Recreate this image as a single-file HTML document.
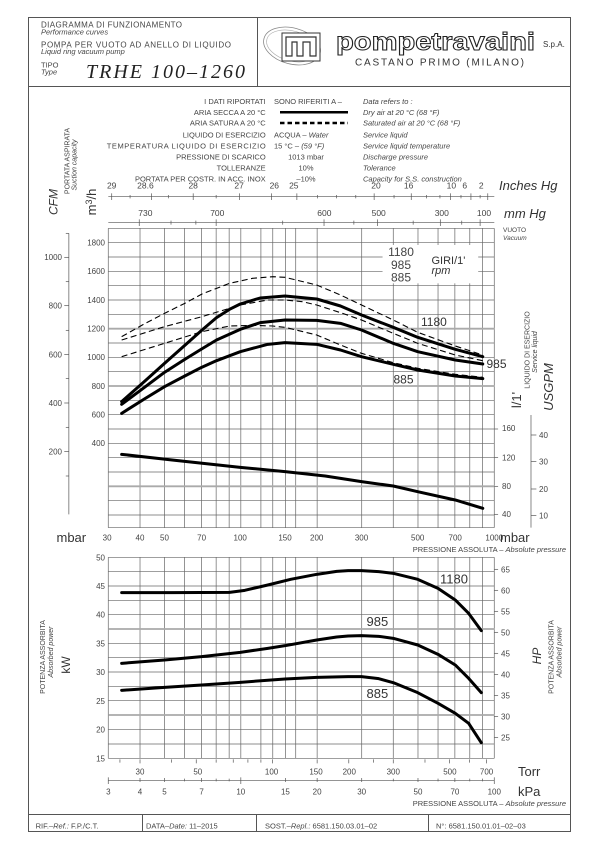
<!DOCTYPE html>
<html><head><meta charset="utf-8"><style>
html,body{margin:0;padding:0;background:#fff}
svg{display:block}
text{font-family:"Liberation Sans",sans-serif;fill:#444}
.it{font-style:italic}
.s{font-size:7.5px}
.m{font-size:8px}
.b{font-size:13px;fill:#333}
.g line,.g polyline,.g path{vector-effect:non-scaling-stroke}
.gl{stroke:#666;stroke-width:0.7}
.gg{stroke:#aaa;stroke-width:1.8}
.cv{fill:none;stroke:#000;stroke-width:3;stroke-linejoin:round;stroke-linecap:round}
.dv{fill:none;stroke:#000;stroke-width:1.1;stroke-dasharray:6 3.5}
.tk{stroke:#555;stroke-width:0.7}
</style></head><body>
<svg width="600" height="849" viewBox="0 0 600 849" xmlns="http://www.w3.org/2000/svg">
<rect width="600" height="849" fill="#fff"/>
<rect x="28.5" y="17.5" width="542" height="814" fill="none" stroke="#555" stroke-width="1"/>
<line x1="28" y1="86.5" x2="571" y2="86.5" stroke="#555"/>
<line x1="257.5" y1="17" x2="257.5" y2="86.5" stroke="#555"/>
<line x1="28" y1="814.5" x2="571" y2="814.5" stroke="#555"/>
<line x1="142.5" y1="814.5" x2="142.5" y2="831.5" stroke="#555"/>
<line x1="256.5" y1="814.5" x2="256.5" y2="831.5" stroke="#555"/>
<line x1="428.5" y1="814.5" x2="428.5" y2="831.5" stroke="#555"/>

<text x="41" y="27.5" class="m" textLength="141">DIAGRAMMA DI FUNZIONAMENTO</text>
<text x="41" y="34.5" class="s it">Performance curves</text>
<text x="41" y="47.5" class="m" textLength="190">POMPA PER VUOTO AD ANELLO DI LIQUIDO</text>
<text x="41" y="54" class="s it">Liquid ring vacuum pump</text>
<text x="41" y="67.5" class="s">TIPO</text>
<text x="41" y="74.5" class="s it">Type</text>
<text x="86" y="78" style="font-family:'Liberation Serif',serif;font-style:italic;font-size:20px;fill:#222" textLength="159">TRHE 100–1260</text>

<ellipse cx="292" cy="46" rx="29" ry="18" fill="none" stroke="#888" stroke-width="0.8" transform="rotate(15 292 46)"/>
<ellipse cx="292" cy="46" rx="26" ry="15" fill="none" stroke="#aaa" stroke-width="0.6" transform="rotate(15 292 46)"/>
<rect x="282" y="33" width="38" height="28" fill="#fff" stroke="#333" stroke-width="1"/>
<path d="M286 37 H316 V56 H310 V42 H303 V56 H297 V42 H292 V56 H286 Z" fill="none" stroke="#333" stroke-width="1.2"/>
<text x="336" y="50" style="font-family:'Liberation Sans',sans-serif;font-weight:bold;font-size:25px;fill:#fff;stroke:#222;stroke-width:1" textLength="199" lengthAdjust="spacingAndGlyphs">pompetravaini</text>
<text x="543" y="47" style="font-size:8px;fill:#333">S.p.A.</text>
<text x="355" y="65.5" style="font-size:10px;fill:#333" textLength="169">CASTANO PRIMO    (MILANO)</text>

<g class="s">
<text x="265.7" y="104" text-anchor="end">I DATI RIPORTATI</text>
<text x="274" y="104">SONO RIFERITI A –</text>
<text x="265.7" y="115" text-anchor="end">ARIA SECCA A 20 °C</text>
<text x="265.7" y="125.7" text-anchor="end">ARIA SATURA A 20 °C</text>
<text x="265.7" y="137.4" text-anchor="end">LIQUIDO DI ESERCIZIO</text>
<text x="265.7" y="148.4" text-anchor="end" textLength="159">TEMPERATURA LIQUIDO DI ESERCIZIO</text>
<text x="265.7" y="159.7" text-anchor="end">PRESSIONE DI SCARICO</text>
<text x="265.7" y="170.7" text-anchor="end">TOLLERANZE</text>
<text x="265.7" y="181.7" text-anchor="end">PORTATA PER COSTR. IN ACC. INOX</text>
<text x="274" y="137.4">ACQUA – <tspan class="it">Water</tspan></text>
<text x="274" y="148.4">15 °C – <tspan class="it">(59 °F)</tspan></text>
<text x="306" y="159.7" text-anchor="middle">1013 mbar</text>
<text x="306" y="170.7" text-anchor="middle">10%</text>
<text x="306" y="181.7" text-anchor="middle">–10%</text>
<g class="it">
<text x="363" y="104">Data refers to :</text>
<text x="363" y="115">Dry air at 20 °C (68 °F)</text>
<text x="363" y="125.7">Saturated air at 20 °C (68 °F)</text>
<text x="363" y="137.4">Service liquid</text>
<text x="363" y="148.4">Service liquid temperature</text>
<text x="363" y="159.7">Discharge pressure</text>
<text x="363" y="170.7">Tolerance</text>
<text x="363" y="181.7">Capacity for S.S. construction</text>
</g>
</g>
<line x1="280" y1="112.3" x2="348" y2="112.3" stroke="#000" stroke-width="2.5"/>
<line x1="280" y1="123" x2="348" y2="123" stroke="#000" stroke-width="2.5" stroke-dasharray="4.5 3"/>

<line x1="108.3" y1="196.7" x2="494.3" y2="196.7" class="tk"/>
<line x1="108.3" y1="222.7" x2="494.3" y2="222.7" class="tk"/>
<g class="g" transform="translate(0,0) scale(0.38256,0.33333)">
<g class="tk">
<line x1="292" y1="580" x2="292" y2="600"/><line x1="396" y1="580" x2="396" y2="600"/><line x1="505" y1="580" x2="505" y2="600"/><line x1="626" y1="580" x2="626" y2="600"/><line x1="710" y1="580" x2="710" y2="600"/><line x1="776" y1="580" x2="776" y2="600"/><line x1="978" y1="580" x2="978" y2="600"/><line x1="1075" y1="580" x2="1075" y2="600"/><line x1="1178" y1="580" x2="1178" y2="600"/><line x1="1231" y1="580" x2="1231" y2="600"/><line x1="1275" y1="580" x2="1275" y2="600"/>
<line x1="340" y1="585" x2="340" y2="595"/><line x1="440" y1="585" x2="440" y2="595"/><line x1="565" y1="585" x2="565" y2="595"/><line x1="830" y1="585" x2="830" y2="595"/><line x1="880" y1="585" x2="880" y2="595"/><line x1="930" y1="585" x2="930" y2="595"/><line x1="1030" y1="585" x2="1030" y2="595"/><line x1="1115" y1="585" x2="1115" y2="595"/><line x1="1150" y1="585" x2="1150" y2="595"/><line x1="1205" y1="585" x2="1205" y2="595"/><line x1="1255" y1="585" x2="1255" y2="595"/>
<line x1="364" y1="658" x2="364" y2="678"/><line x1="447" y1="662" x2="447" y2="674"/><line x1="512" y1="662" x2="512" y2="674"/><line x1="565" y1="658" x2="565" y2="678"/><line x1="739" y1="662" x2="739" y2="674"/><line x1="847" y1="658" x2="847" y2="678"/><line x1="925" y1="662" x2="925" y2="674"/><line x1="987" y1="658" x2="987" y2="678"/><line x1="1080" y1="662" x2="1080" y2="674"/><line x1="1151" y1="658" x2="1151" y2="678"/><line x1="1207" y1="662" x2="1207" y2="674"/><line x1="1255" y1="658" x2="1255" y2="678"/>
</g></g>
<g class="m" text-anchor="middle" style="font-size:8.5px">
<text x="111.7" y="188.5">29</text><text x="145.4" y="188.5">28.6</text><text x="193.2" y="188.5">28</text><text x="239.1" y="188.5">27</text><text x="274.3" y="188.5">26</text><text x="293.8" y="188.5">25</text><text x="376" y="188.5">20</text><text x="408.6" y="188.5">16</text><text x="451.4" y="188.5">10</text><text x="464.8" y="188.5">6</text><text x="481.3" y="188.5">2</text>
<text x="145.4" y="216">730</text><text x="217.3" y="216">700</text><text x="324.4" y="216">600</text><text x="378.7" y="216">500</text><text x="441.8" y="216">300</text><text x="484" y="216">100</text>
</g>
<text x="499" y="190" class="b it">Inches Hg</text>
<text x="504" y="218" class="b it">mm Hg</text>
<text x="503" y="232" style="font-size:6.5px">VUOTO</text>
<text x="503" y="240" style="font-size:6.5px" class="it">Vacuum</text>

<text transform="translate(57.5,202) rotate(-90)" text-anchor="middle" style="font-size:12px;font-style:italic;fill:#333">CFM</text>
<text transform="translate(69.5,161) rotate(-90)" text-anchor="middle" style="font-size:7px">PORTATA ASPIRATA</text>
<text transform="translate(76.5,165) rotate(-90)" text-anchor="middle" style="font-size:7px;font-style:italic">Suction capacity</text>
<text transform="translate(96,202) rotate(-90)" text-anchor="middle" style="font-size:13px;fill:#333">m<tspan dy="-4" style="font-size:9px">3</tspan><tspan dy="4">/h</tspan></text>

<g class="g" transform="translate(0,220) scale(0.38256,0.33333)">
<g class="gl">
<line x1="283" y1="25" x2="283" y2="923"/><line x1="366" y1="25" x2="366" y2="923"/><line x1="430" y1="25" x2="430" y2="923"/><line x1="482" y1="25" x2="482" y2="923"/><line x1="527" y1="25" x2="527" y2="923"/><line x1="565" y1="25" x2="565" y2="923"/><line x1="599" y1="25" x2="599" y2="923"/><line x1="629.5" y1="25" x2="629.5" y2="923"/><line x1="682" y1="25" x2="682" y2="923"/><line x1="713" y1="25" x2="713" y2="923"/><line x1="746" y1="25" x2="746" y2="923"/><line x1="773" y1="25" x2="773" y2="923"/><line x1="829" y1="25" x2="829" y2="923"/><line x1="945.5" y1="25" x2="945.5" y2="923"/><line x1="1028" y1="25" x2="1028" y2="923"/><line x1="1092.6" y1="25" x2="1092.6" y2="923"/><line x1="1145" y1="25" x2="1145" y2="923"/><line x1="1189" y1="25" x2="1189" y2="923"/><line x1="1228" y1="25" x2="1228" y2="923"/><line x1="1261.5" y1="25" x2="1261.5" y2="923"/><line x1="1292" y1="25" x2="1292" y2="923"/>
<line x1="283" y1="25" x2="1292" y2="25"/><line x1="283" y1="68" x2="1292" y2="68"/><line x1="283" y1="111" x2="1292" y2="111"/><line x1="283" y1="154" x2="1292" y2="154"/><line x1="283" y1="197" x2="1292" y2="197"/><line x1="283" y1="240" x2="1292" y2="240"/><line x1="283" y1="283" x2="1292" y2="283"/><line x1="283" y1="369" x2="1292" y2="369"/><line x1="283" y1="412" x2="1292" y2="412"/><line x1="283" y1="455" x2="1292" y2="455"/><line x1="283" y1="541" x2="1292" y2="541"/><line x1="283" y1="584" x2="1292" y2="584"/><line x1="283" y1="627" x2="1292" y2="627"/><line x1="283" y1="670" x2="1292" y2="670"/><line x1="283" y1="713" x2="1292" y2="713"/><line x1="283" y1="756" x2="1292" y2="756"/><line x1="283" y1="842" x2="1292" y2="842"/><line x1="283" y1="885" x2="1292" y2="885"/><line x1="283" y1="923" x2="1292" y2="923"/>
</g>
<g class="gg"><line x1="283" y1="326" x2="1292" y2="326"/><line x1="283" y1="498" x2="1292" y2="498"/><line x1="283" y1="799" x2="1292" y2="799"/></g>
<rect x="1000" y="75" width="250" height="115" fill="#fff"/>
<g class="tk">
<line x1="180" y1="40" x2="180" y2="883"/>
<line x1="168" y1="112" x2="180" y2="112"/><line x1="168" y1="257" x2="180" y2="257"/><line x1="168" y1="404" x2="180" y2="404"/><line x1="168" y1="549" x2="180" y2="549"/><line x1="168" y1="695" x2="180" y2="695"/>
<line x1="172" y1="40" x2="180" y2="40"/><line x1="172" y1="185" x2="180" y2="185"/><line x1="172" y1="331" x2="180" y2="331"/><line x1="172" y1="476" x2="180" y2="476"/><line x1="172" y1="622" x2="180" y2="622"/><line x1="172" y1="768" x2="180" y2="768"/>
<line x1="1292" y1="627" x2="1302" y2="627"/><line x1="1292" y1="713" x2="1302" y2="713"/><line x1="1292" y1="799" x2="1302" y2="799"/><line x1="1292" y1="883" x2="1302" y2="883"/>
<line x1="1388" y1="585" x2="1388" y2="923"/>
<line x1="1388" y1="645" x2="1402" y2="645"/><line x1="1388" y1="725" x2="1402" y2="725"/><line x1="1388" y1="807" x2="1402" y2="807"/><line x1="1388" y1="887" x2="1402" y2="887"/>
</g>
<polyline class="dv" points="318,350 380,310 430,280 483,250 528,222 600,190 660,175 713,170 745,172 828,195 890,225 945,255 1028,300 1092,337 1190,378 1262,405"/>
<polyline class="dv" points="318,360 430,320 528,290 628,255 700,240 745,240 790,245 828,255 890,278 945,300 1028,340 1092,370 1190,405 1262,422"/>
<polyline class="dv" points="318,410 430,370 528,335 600,318 660,316 713,318 745,322 828,345 890,375 945,400 1028,428 1092,445 1190,463 1262,472"/>
<polyline class="cv" points="318,545 380,482 430,430 483,376 527,331 566,293 600,268 628,252 680,234 745,228 828,237 890,258 945,285 1028,322 1092,352 1190,388 1262,410"/>
<polyline class="cv" points="318,553 380,500 430,457 483,418 527,387 566,360 628,328 680,308 745,300 828,301 890,310 945,330 1028,370 1092,395 1190,420 1262,432"/>
<polyline class="cv" points="318,580 380,535 430,500 483,468 527,442 566,422 628,395 700,373 745,368 828,373 890,390 945,410 1028,433 1092,450 1190,468 1262,476"/>
<polyline class="cv" points="318,703 450,720 628,742 745,755 850,768 945,785 1028,798 1092,815 1190,840 1262,865"/>
</g>
<g class="m" text-anchor="end" style="font-size:8px">
<text x="105" y="245.5">1800</text><text x="105" y="274.2">1600</text><text x="105" y="302.9">1400</text><text x="105" y="331.5">1200</text><text x="105" y="360.2">1000</text><text x="105" y="388.9">800</text><text x="105" y="417.5">600</text><text x="105" y="446.2">400</text>
<text x="62" y="260">1000</text><text x="62" y="308.5">800</text><text x="62" y="357.5">600</text><text x="62" y="405.8">400</text><text x="62" y="454.5">200</text>
</g>
<g class="m" style="font-size:8px">
<text x="502" y="431">160</text><text x="502" y="460.5">120</text><text x="502" y="489">80</text><text x="502" y="517">40</text>
<text x="539" y="438">40</text><text x="539" y="464.5">30</text><text x="539" y="492">20</text><text x="539" y="518.5">10</text>
</g>
<text transform="translate(521,400) rotate(-90)" text-anchor="middle" class="b">l/1'</text>
<text transform="translate(529.5,350) rotate(-90)" text-anchor="middle" style="font-size:7px">LIQUIDO DI ESERCIZIO</text>
<text transform="translate(537,352) rotate(-90)" text-anchor="middle" style="font-size:7px;font-style:italic">Service liquid</text>
<text transform="translate(553,387) rotate(-90)" text-anchor="middle" class="b it">USGPM</text>
<g style="font-size:12px;fill:#333" text-anchor="middle">
<text x="401" y="256">1180</text><text x="401" y="269">985</text><text x="401" y="281.5">885</text>
</g>
<text x="431.5" y="264" style="font-size:11px;fill:#333">GIRI/1'</text>
<text x="431.5" y="274" style="font-size:11px;fill:#333" class="it">rpm</text>
<text x="421" y="326" style="font-size:12px;fill:#333">1180</text>
<text x="486.5" y="368" style="font-size:12px;fill:#333">985</text>
<text x="393.5" y="383.5" style="font-size:12px;fill:#333">885</text>

<text x="56.5" y="542" class="b">mbar</text>
<g class="m" text-anchor="middle">
<text x="107.1" y="540.5">30</text><text x="140" y="540.5">40</text><text x="164.5" y="540.5">50</text><text x="201.6" y="540.5">70</text><text x="240.2" y="540.5">100</text><text x="285" y="540.5">150</text><text x="316.7" y="540.5">200</text><text x="361.5" y="540.5">300</text><text x="417.7" y="540.5">500</text><text x="455.2" y="540.5">700</text><text x="494.3" y="540.5">1000</text>
</g>
<text x="500" y="542" class="b">mbar</text>
<text x="566" y="552" text-anchor="end" class="s">PRESSIONE ASSOLUTA – <tspan class="it">Absolute pressure</tspan></text>

<g class="g" transform="translate(0,540) scale(0.38256,0.33333)">
<g class="gl">
<line x1="283" y1="52" x2="283" y2="655"/><line x1="366" y1="52" x2="366" y2="655"/><line x1="430" y1="52" x2="430" y2="655"/><line x1="482" y1="52" x2="482" y2="655"/><line x1="527" y1="52" x2="527" y2="655"/><line x1="565" y1="52" x2="565" y2="655"/><line x1="599" y1="52" x2="599" y2="655"/><line x1="629.5" y1="52" x2="629.5" y2="655"/><line x1="682" y1="52" x2="682" y2="655"/><line x1="713" y1="52" x2="713" y2="655"/><line x1="746" y1="52" x2="746" y2="655"/><line x1="773" y1="52" x2="773" y2="655"/><line x1="829" y1="52" x2="829" y2="655"/><line x1="945.5" y1="52" x2="945.5" y2="655"/><line x1="1028" y1="52" x2="1028" y2="655"/><line x1="1092.6" y1="52" x2="1092.6" y2="655"/><line x1="1145" y1="52" x2="1145" y2="655"/><line x1="1189" y1="52" x2="1189" y2="655"/><line x1="1228" y1="52" x2="1228" y2="655"/><line x1="1261.5" y1="52" x2="1261.5" y2="655"/><line x1="1292" y1="52" x2="1292" y2="655"/>
<line x1="283" y1="52" x2="1292" y2="52"/><line x1="283" y1="95" x2="1292" y2="95"/><line x1="283" y1="138" x2="1292" y2="138"/><line x1="283" y1="181" x2="1292" y2="181"/><line x1="283" y1="224" x2="1292" y2="224"/><line x1="283" y1="310" x2="1292" y2="310"/><line x1="283" y1="353" x2="1292" y2="353"/><line x1="283" y1="396" x2="1292" y2="396"/><line x1="283" y1="439" x2="1292" y2="439"/><line x1="283" y1="482" x2="1292" y2="482"/><line x1="283" y1="569" x2="1292" y2="569"/><line x1="283" y1="612" x2="1292" y2="612"/><line x1="283" y1="655" x2="1292" y2="655"/>
</g>
<g class="gg"><line x1="283" y1="267" x2="1292" y2="267"/><line x1="283" y1="525" x2="1292" y2="525"/></g>
<g class="tk">
<line x1="1292" y1="88" x2="1302" y2="88"/><line x1="1292" y1="151" x2="1302" y2="151"/><line x1="1292" y1="214" x2="1302" y2="214"/><line x1="1292" y1="277" x2="1302" y2="277"/><line x1="1292" y1="340" x2="1302" y2="340"/><line x1="1292" y1="404" x2="1302" y2="404"/><line x1="1292" y1="467" x2="1302" y2="467"/><line x1="1292" y1="530" x2="1302" y2="530"/><line x1="1292" y1="593" x2="1302" y2="593"/>
<line x1="313.5" y1="658" x2="313.5" y2="668"/><line x1="366" y1="658" x2="366" y2="670"/><line x1="448.6" y1="658" x2="448.6" y2="668"/><line x1="513" y1="658" x2="513" y2="670"/><line x1="565" y1="658" x2="565" y2="668"/><line x1="609.7" y1="658" x2="609.7" y2="668"/><line x1="648" y1="658" x2="648" y2="668"/><line x1="682" y1="658" x2="682" y2="668"/><line x1="712.5" y1="658" x2="712.5" y2="670"/><line x1="829" y1="658" x2="829" y2="670"/><line x1="911.7" y1="658" x2="911.7" y2="670"/><line x1="976" y1="658" x2="976" y2="668"/><line x1="1028" y1="658" x2="1028" y2="670"/><line x1="1110.9" y1="658" x2="1110.9" y2="668"/><line x1="1175" y1="658" x2="1175" y2="670"/><line x1="1227.6" y1="658" x2="1227.6" y2="668"/><line x1="1272" y1="658" x2="1272" y2="670"/>
<line x1="283" y1="722" x2="1292" y2="722"/>
<line x1="283" y1="712" x2="283" y2="732"/><line x1="366" y1="714" x2="366" y2="726"/><line x1="430" y1="714" x2="430" y2="726"/><line x1="482" y1="716" x2="482" y2="724"/><line x1="527" y1="714" x2="527" y2="726"/><line x1="565" y1="716" x2="565" y2="724"/><line x1="599" y1="716" x2="599" y2="724"/><line x1="629.5" y1="712" x2="629.5" y2="732"/><line x1="746" y1="714" x2="746" y2="726"/><line x1="829" y1="714" x2="829" y2="726"/><line x1="945.5" y1="714" x2="945.5" y2="726"/><line x1="1028" y1="716" x2="1028" y2="724"/><line x1="1092.6" y1="714" x2="1092.6" y2="726"/><line x1="1145" y1="716" x2="1145" y2="724"/><line x1="1189" y1="714" x2="1189" y2="726"/><line x1="1228" y1="716" x2="1228" y2="724"/><line x1="1261.5" y1="716" x2="1261.5" y2="724"/><line x1="1292" y1="712" x2="1292" y2="732"/>
</g>
<polyline class="cv" points="318,158 450,158 600,157 640,151 700,135 760,118 828,103 880,94 910,92 945,92 990,95 1028,100 1092,118 1145,145 1190,180 1225,220 1258,272"/>
<polyline class="cv" points="318,370 430,360 527,350 628,337 700,325 745,317 828,300 880,291 910,288 945,287 990,289 1028,295 1092,315 1145,343 1190,375 1225,415 1258,458"/>
<polyline class="cv" points="318,451 430,442 527,435 628,427 745,417 828,412 910,410 945,410 990,416 1028,428 1092,458 1145,490 1190,520 1225,550 1258,608"/>
</g>
<g class="m" text-anchor="end">
<text x="105" y="560.3">50</text><text x="105" y="589">45</text><text x="105" y="617.7">40</text><text x="105" y="646.4">35</text><text x="105" y="675.2">30</text><text x="105" y="703.9">25</text><text x="105" y="732.6">20</text><text x="105" y="761.3">15</text>
</g>
<g class="m">
<text x="501" y="572.3">65</text><text x="501" y="593.4">60</text><text x="501" y="614.4">55</text><text x="501" y="635.5">50</text><text x="501" y="656.5">45</text><text x="501" y="677.6">40</text><text x="501" y="698.6">35</text><text x="501" y="719.7">30</text><text x="501" y="740.7">25</text>
</g>
<text x="440" y="583.5" class="b">1180</text>
<text x="366.5" y="626" class="b">985</text>
<text x="366.5" y="698" class="b">885</text>
<text transform="translate(45,657) rotate(-90)" text-anchor="middle" style="font-size:7px">POTENZA ASSORBITA</text>
<text transform="translate(53,652) rotate(-90)" text-anchor="middle" style="font-size:7px;font-style:italic">Absorbed power</text>
<text transform="translate(70,665) rotate(-90)" text-anchor="middle" style="font-size:12px;fill:#333">kW</text>
<text transform="translate(541,656) rotate(-90)" text-anchor="middle" style="font-size:12px;font-style:italic;fill:#333">HP</text>
<text transform="translate(553.5,657) rotate(-90)" text-anchor="middle" style="font-size:7px">POTENZA ASSORBITA</text>
<text transform="translate(561.5,652) rotate(-90)" text-anchor="middle" style="font-size:7px;font-style:italic">Absorbed power</text>
<g class="m" text-anchor="middle">
<text x="140" y="774.5">30</text><text x="197.8" y="774.5">50</text><text x="271.6" y="774.5">100</text><text x="316" y="774.5">150</text><text x="349.3" y="774.5">200</text><text x="393.3" y="774.5">300</text><text x="449.9" y="774.5">500</text><text x="486.6" y="774.5">700</text>
<text x="108.3" y="794.5">3</text><text x="140" y="794.5">4</text><text x="164.5" y="794.5">5</text><text x="201.6" y="794.5">7</text><text x="240.8" y="794.5">10</text><text x="285.4" y="794.5">15</text><text x="317.1" y="794.5">20</text><text x="361.7" y="794.5">30</text><text x="418" y="794.5">50</text><text x="454.9" y="794.5">70</text><text x="494.3" y="794.5">100</text>
</g>
<text x="518" y="776" class="b">Torr</text>
<text x="518" y="796" class="b">kPa</text>
<text x="566" y="806" text-anchor="end" class="s">PRESSIONE ASSOLUTA – <tspan class="it">Absolute pressure</tspan></text>

<g class="s">
<text x="35.6" y="828.5">RIF.–<tspan class="it">Ref.:</tspan> F.P./C.T.</text>
<text x="146" y="828.5">DATA–<tspan class="it">Date:</tspan> 11–2015</text>
<text x="265" y="828.5">SOST.–<tspan class="it">Repl.:</tspan>  6581.150.03.01–02</text>
<text x="436" y="828.5">N°: 6581.150.01.01–02–03</text>
</g>
</svg>
</body></html>
